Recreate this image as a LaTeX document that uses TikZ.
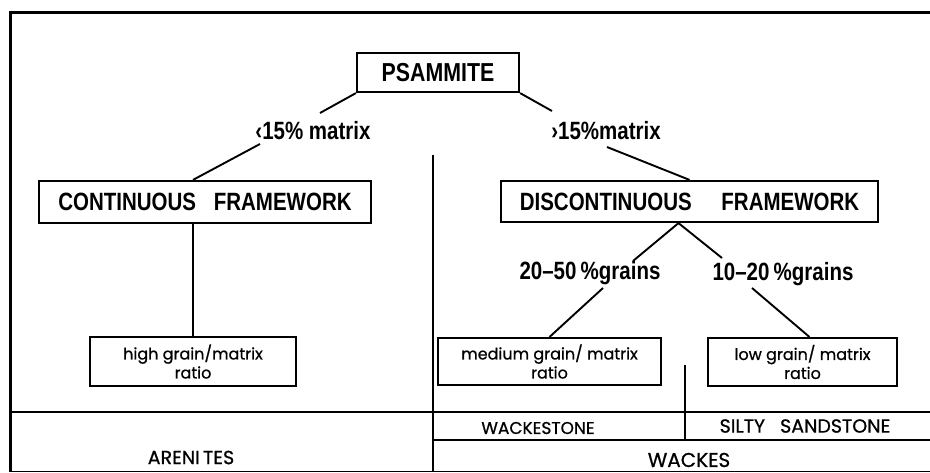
\documentclass[tikz,border=0pt]{standalone}
\usepackage{fontspec}
\setmainfont{Liberation Sans}
\newfontfamily\cond{Liberation Sans}[FakeStretch=0.82]
\newfontfamily\geo{Poppins}[FakeBold=0.8]
\begin{document}
\begin{tikzpicture}[x=1pt,y=-1pt,
  bigbox/.style={draw, line width=2.2pt, inner sep=0pt, font=\cond\bfseries\fontsize{25}{28}\selectfont},
  smallbox/.style={draw, line width=2pt, inner sep=0pt, align=center, font=\geo\fontsize{16}{19}\selectfont},
  lbl/.style={inner sep=0pt, font=\cond\bfseries\fontsize{25}{28}\selectfont},
  cat/.style={inner sep=0pt, font=\geo\fontsize{17}{20}\selectfont},
  conn/.style={line width=1.9pt},
  frame/.style={line width=1.9pt}]
\useasboundingbox (0,0) rectangle (930,473);
% frame
\draw[line width=3pt] (930,13) -- (10,13) -- (10,472);
\draw[line width=1.2pt] (10,471.5) -- (930,471.5);
\draw[frame] (433,155) -- (433,472);
\draw[frame] (10,412) -- (930,412);
\draw[frame] (433,440) -- (930,440);
\draw[frame] (685,365) -- (685,440);
% boxes
\node[bigbox, minimum width=162pt, minimum height=39pt] (psam) at (438,72.5) {\fontsize{26}{28}\selectfont PSAMMITE};
\node[bigbox, minimum width=332pt, minimum height=42pt] (cont) at (205,202) {CONTINUOUS\hspace{12pt} FRAMEWORK};
\node[bigbox, minimum width=377pt, minimum height=41pt] (disc) at (689.5,201.5) {DISCONTINUOUS\hspace{24pt} FRAMEWORK};
\node[smallbox, minimum width=206pt, minimum height=49pt] (high) at (193,361.5) {high grain/matrix\\ratio};
\node[smallbox, minimum width=223pt, minimum height=47pt] (med) at (549.5,361.5) {medium grain/ matrix\\ratio};
\node[smallbox, minimum width=189pt, minimum height=48pt] (low) at (802.5,362) {low grain/ matrix\\ratio};
% labels
\node[lbl, anchor=base] (l1) at (313,140) {‹15\% matrix};
\node[lbl, anchor=base] (l2) at (606,140) {›15\%matrix};
\node[lbl, anchor=base] (l3) at (590,280) {20–50\,\%grains};
\node[lbl, anchor=base] (l4) at (783,281) {10–20\,\%grains};
% categories
\node[cat] (wst) at (538,428) {WACKESTONE};
\node[cat, font=\geo\fontsize{19}{20}\selectfont] (sst) at (805,426) {SILTY\hspace{10pt} SANDSTONE};
\node[cat, font=\geo\fontsize{19}{20}\selectfont] (are) at (191,457.5) {ARENI\,TES};
\node[cat, font=\geo\fontsize{20}{22}\selectfont] (wac) at (689,460) {WACKES};
% connectors
\coordinate (a1) at (320,113);
\coordinate (a2) at (260,144);
\draw[conn] (psam.south west) -- (a1);
\draw[conn] (a2) -- (cont.north -| high.north);
\coordinate (b1) at (552,111);
\coordinate (b2) at (607,147);
\draw[conn] (psam.south east) -- (b1);
\draw[conn] (b2) -- (disc.north);
\draw[conn] (cont.south -| high.north) -- (high.north);
\coordinate (dj) at ([xshift=-11pt]disc.south);
\coordinate (c1) at (633,261);
\coordinate (c2) at (603,288);
\coordinate (d1) at (722,258);
\coordinate (d2) at (752,288);
\draw[conn] (dj) -- (c1);
\draw[conn] (c2) -- (med.north);
\draw[conn] (dj) -- (d1);
\draw[conn] (d2) -- ([xshift=7pt]low.north);
\end{tikzpicture}
\end{document}
